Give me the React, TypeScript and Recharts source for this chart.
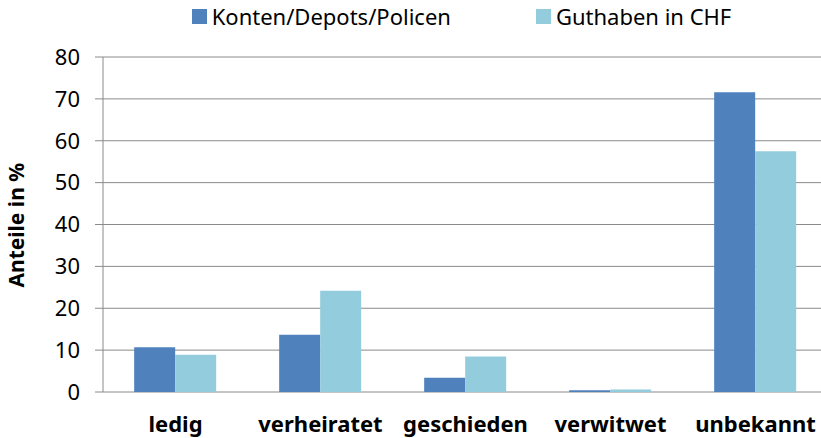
import React from "react";
import { BarChart, Bar, XAxis, YAxis, CartesianGrid, Legend } from "recharts";

const categories = ["ledig", "verheiratet", "geschieden", "verwitwet", "unbekannt"];
const kontenValues = [10.7, 13.7, 3.4, 0.4, 71.6];
const guthabenValues = [8.9, 24.2, 8.5, 0.6, 57.5];
const seriesNames = ["Konten/Depots/Policen", "Guthaben in CHF"];
const yTicks = [0, 10, 20, 30, 40, 50, 60, 70, 80];
const boundaryTicks = [0, 1, 2, 3, 4, 5];

const data = categories.map((c, i) => ({
  name: c,
  konten: kontenValues[i],
  guthaben: guthabenValues[i],
}));

const FONT = '"Noto Sans", sans-serif';
const GRID = "#8a8a8a";

const CatTick = (props: any) => {
  const { x, y, payload } = props;
  return (
    <text x={x} y={y + 32} textAnchor="middle" fontFamily={FONT} fontWeight="bold" fontSize={22} fill="#000">
      {payload.value}
    </text>
  );
};

const LegendContent = (props: any) => {
  const payload = [...(props.payload || [])].sort(
    (a: any, b: any) => seriesNames.indexOf(a.value) - seriesNames.indexOf(b.value)
  );
  return (
    <div style={{ display: "flex", justifyContent: "center", gap: 85, fontFamily: FONT, fontSize: 22, color: "#000", paddingLeft: 95 }}>
      {payload.map((p: any) => (
        <div key={p.value} style={{ display: "flex", alignItems: "center" }}>
          <span style={{ display: "inline-block", width: 15, height: 15, background: p.color, marginRight: 5 }} />
          <span>{p.value}</span>
        </div>
      ))}
    </div>
  );
};

export default function App() {
  return (
    <div style={{ position: "absolute", left: 0, top: 0, width: 821, height: 438, overflow: "hidden", background: "#fff" }}>
      <BarChart
        width={835}
        height={438}
        data={data}
        margin={{ top: 0, right: 7, left: 0, bottom: 0 }}
        barCategoryGap="21.5%"
        barGap={0}
      >
        <Legend
          verticalAlign="top"
          align="center"
          height={57}
          content={<LegendContent />}
          wrapperStyle={{ top: 1 }}
        />
        <CartesianGrid vertical={false} stroke={GRID} strokeWidth={1} />
        <XAxis
          xAxisId="t"
          type="number"
          dataKey={() => 0}
          domain={[0, 5]}
          ticks={boundaryTicks}
          tick={false}
          tickSize={8}
          height={0}
          stroke={GRID}
          axisLine={{ stroke: GRID }}
          tickLine={{ stroke: GRID }}
        />
        <XAxis
          xAxisId="cat"
          dataKey="name"
          height={46}
          tickLine={false}
          axisLine={false}
          tick={<CatTick />}
          interval={0}
        />
        <YAxis
          width={103}
          domain={[0, 80]}
          ticks={yTicks}
          tickSize={8}
          tickMargin={15}
          stroke={GRID}
          tick={{ fontFamily: FONT, fontSize: 22, fill: "#000" }}
          label={{
            value: "Anteile in %",
            angle: -90,
            position: "insideLeft",
            dx: 12,
            dy: 63,
            style: { fontFamily: FONT, fontSize: 21, fontWeight: "bold", fill: "#000" },
          }}
        />
        <Bar xAxisId="cat" dataKey="konten" name={seriesNames[0]} fill="#4F81BD" isAnimationActive={false} />
        <Bar xAxisId="cat" dataKey="guthaben" name={seriesNames[1]} fill="#93CDDD" isAnimationActive={false} />
      </BarChart>
    </div>
  );
}
